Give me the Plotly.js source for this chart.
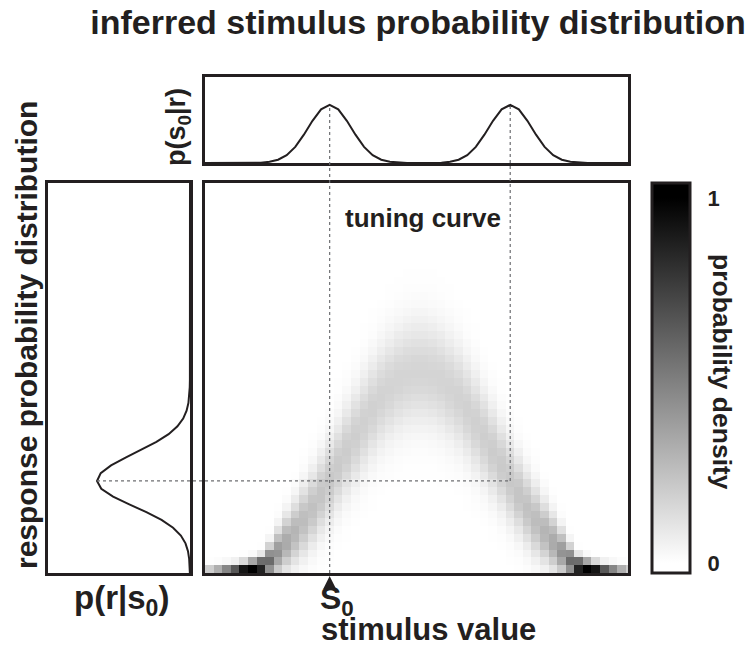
<!DOCTYPE html>
<html><head><meta charset="utf-8">
<script src="https://cdn.plot.ly/plotly-3.0.1.min.js"></script>
<style>html,body{margin:0;padding:0;background:#fff}#chart{width:746px;height:645px}</style>
</head><body><div id="chart"></div>
<script>
// ---------- data ----------
const stimulusGrid = [0,2,4,6,8,10,12,14,16,18,20,22,24,26,28,30,32,34,36,38,40,42,44,46,48,50,52,54,56,58,60,62,64,66,68,70,72,74,76,78,80,82,84,86,88,90,92,94,96,98,100];
const responseGrid = [1,3,5,7,9,11,13,15,17,19,21,23,25,27,29,31,33,35,37,39,41,43,45,47,49,51,53,55,57,59,61,63,65,67,69,71,73,75,77,79,81,83,85,87,89,91,93,95,97,99];
// centre of the response band per stimulus column (tuning curve)
const ridgeMean = [-2.0,-1.6,-1.2,-0.8,-0.4,0.2,0.8,1.4,3.0,5.3,7.8,10.43,13.35,16.5,20.0,23.6,27.4,31.2,34.9,38.5,41.9,44.9,47.4,49.4,50.7,51.4,51.4,50.7,49.4,47.4,44.9,41.9,38.5,34.9,31.2,27.4,23.6,20.0,16.5,13.35,10.43,7.8,5.3,3.0,1.4,0.8,0.2,-0.4,-0.8,-1.2,-1.6];
// spread of the response band per stimulus column
const ridgeSpread = [1.4,1.4,1.4,1.4,1.4,1.4,1.5,1.7,2.6,3.6,4.5,5.2,5.8,6.2,6.6,7.0,7.3,7.6,7.9,8.2,8.4,8.6,8.8,8.9,9.0,9.0,9.0,9.0,8.9,8.8,8.6,8.4,8.2,7.9,7.6,7.3,7.0,6.6,6.2,5.8,5.2,4.5,3.6,2.6,1.7,1.5,1.4,1.4,1.4,1.4,1.4];
// inferred stimulus distribution p(s0|r) (top panel)
const posteriorS = stimulusGrid;
const posteriorP = [0,0,0,0,0,0.0003,0.0015,0.006,0.020,0.056,0.135,0.278,0.487,0.726,0.923,1,0.923,0.726,0.487,0.278,0.135,0.056,0.020,0.006,0.0015,0.0004,0.0004,0.0015,0.006,0.020,0.056,0.135,0.278,0.487,0.726,0.923,1,0.923,0.726,0.487,0.278,0.135,0.056,0.020,0.006,0.0015,0.0003,0,0,0,0];
// response distribution p(r|s0) (left panel)
const likelihoodR = [0,1.6,3.6,5.6,7.6,9.6,11.6,13.6,15.6,17.6,19.6,21.6,23.6,25.6,27.6,29.6,31.6,33.6,35.6,37.6,39.6,41.6,43.6,45.6,47.6,49.6,100];
const likelihoodP = [0.0014,0.0033,0.0088,0.0216,0.0483,0.0983,0.182,0.306,0.469,0.653,0.827,0.954,1,0.960,0.849,0.693,0.520,0.361,0.230,0.135,0.0734,0.0367,0.0169,0.0072,0.0028,0.0010,0];
const s0 = 30, s1 = 72, r0 = 23.6;
const colorTicks = [0,1];
const colorTickText = ['0','1'];

// ---------- density matrix ----------
const zRaw = responseGrid.map(r => stimulusGrid.map((s, j) => {
  const m = ridgeMean[j], sd = ridgeSpread[j];
  return Math.exp(-0.5 * ((r - m) / sd) ** 2) / sd;
}));
const zMax = Math.max(...zRaw.flat());
const z = zRaw.map(row => row.map(v => v / zMax));

// ---------- layout geometry ----------
const W = 746, H = 645;
const px = v => v / W, py = v => 1 - v / H;
const mainX = [px(205), px(628)], mainY = [py(573), py(183)];
const topY = [py(163), py(77)];
const leftX = [px(48), px(190)];
const sRange = [1, 99.4], rRange = [0, 100], topRange = [0, 1.48], leftRange = [1.527, 0];
const toPaper = (dom, rng, v) => dom[0] + (v - rng[0]) / (rng[1] - rng[0]) * (dom[1] - dom[0]);

const ink = '#231f20';
const FF = 'Liberation Sans, Arial, Helvetica, sans-serif';
const bold = (size) => ({family: FF, size: size, color: ink, weight: 700});

const frameAxis = (extra) => Object.assign({
  showline: true, mirror: true, linewidth: 3, linecolor: ink,
  ticks: '', showticklabels: false, showgrid: false, zeroline: false, fixedrange: true
}, extra);

const traces = [
  {
    type: 'heatmap', x: stimulusGrid, y: responseGrid, z: z,
    xaxis: 'x', yaxis: 'y', zmin: -0.027, zmax: 1.041,
    colorscale: [[0, '#ffffff'], [0.0253, '#ffffff'], [0.9616, '#000000'], [1, '#000000']],
    hoverinfo: 'skip',
    colorbar: {
      x: px(652), xanchor: 'left', xref: 'paper', xpad: 0,
      y: mainY[0], yanchor: 'bottom', ypad: 0,
      len: (573 - 183) / H, lenmode: 'fraction',
      thickness: 38, thicknessmode: 'pixels',
      outlinewidth: 3, outlinecolor: ink,
      tickmode: 'array', tickvals: colorTicks, ticktext: colorTickText,
      ticks: 'outside', ticklen: 12, tickcolor: 'rgba(0,0,0,0)',
      tickfont: bold(22)
    }
  },
  {
    type: 'scatter', mode: 'lines', x: posteriorS, y: posteriorP,
    xaxis: 'x2', yaxis: 'y2', line: {color: ink, width: 2}, hoverinfo: 'skip', showlegend: false
  },
  {
    type: 'scatter', mode: 'lines', x: likelihoodP, y: likelihoodR,
    xaxis: 'x3', yaxis: 'y3', line: {color: ink, width: 2}, hoverinfo: 'skip', showlegend: false
  }
];

const dotLine = {color: '#6d6e71', width: 1.2, dash: 'dot'};
const topPeakY = toPaper(topY, topRange, 1);
const shapes = [
  {type: 'line', xref: 'paper', yref: 'paper', layer: 'above',
   x0: toPaper(mainX, sRange, s0), x1: toPaper(mainX, sRange, s0),
   y0: mainY[0], y1: topPeakY, line: dotLine},
  {type: 'line', xref: 'paper', yref: 'paper', layer: 'above',
   x0: toPaper(mainX, sRange, s1), x1: toPaper(mainX, sRange, s1),
   y0: toPaper(mainY, rRange, r0), y1: topPeakY, line: dotLine},
  {type: 'line', xref: 'paper', yref: 'paper', layer: 'above',
   x0: toPaper(leftX, leftRange, 1), x1: toPaper(mainX, sRange, s1),
   y0: toPaper(mainY, rRange, r0), y1: toPaper(mainY, rRange, r0), line: dotLine}
];

const ann = (text, x, y, size, extra) => Object.assign({
  text: text, xref: 'paper', yref: 'paper', x: px(x), y: py(y),
  xanchor: 'center', yanchor: 'middle', showarrow: false, font: bold(size), borderpad: 0
}, extra || {});

const annotations = [
  ann('response probability distribution', 26, 335, 30, {textangle: -90}),
  ann('p(s<sub>0</sub>|r)', 178, 127, 27, {textangle: -90}),
  ann('p(r|s<sub>0</sub>)', 121, 600, 33),
  ann('tuning curve', 423, 218, 26),
  ann('stimulus value', 428, 629, 31),
  ann('S<sub>0</sub>', 337, 600, 32),
  ann('probability density', 722, 372, 26.5, {textangle: 90}),
  {text: '', xref: 'x', yref: 'paper', x: s0, y: mainY[0],
   showarrow: true, arrowhead: 2, arrowsize: 1.3, arrowwidth: 2, arrowcolor: ink,
   ax: 0, ay: 12, standoff: 3}
];

const layout = {
  width: W, height: H, margin: {l: 0, r: 0, t: 0, b: 0},
  paper_bgcolor: '#ffffff', plot_bgcolor: '#ffffff', showlegend: false,
  title: {text: 'inferred stimulus probability distribution', font: bold(34),
          x: px(418), xref: 'paper', xanchor: 'center', y: py(22), yref: 'paper', yanchor: 'middle'},
  xaxis: frameAxis({domain: mainX, range: sRange, anchor: 'y'}),
  yaxis: frameAxis({domain: mainY, range: rRange, anchor: 'x'}),
  xaxis2: frameAxis({domain: mainX, range: sRange, anchor: 'y2'}),
  yaxis2: frameAxis({domain: topY, range: topRange, anchor: 'x2'}),
  xaxis3: frameAxis({domain: leftX, range: leftRange, anchor: 'y3'}),
  yaxis3: frameAxis({domain: mainY, range: rRange, anchor: 'x3'}),
  shapes: shapes, annotations: annotations
};

Plotly.newPlot('chart', traces, layout, {staticPlot: true, displayModeBar: false});
</script>
</body></html>
